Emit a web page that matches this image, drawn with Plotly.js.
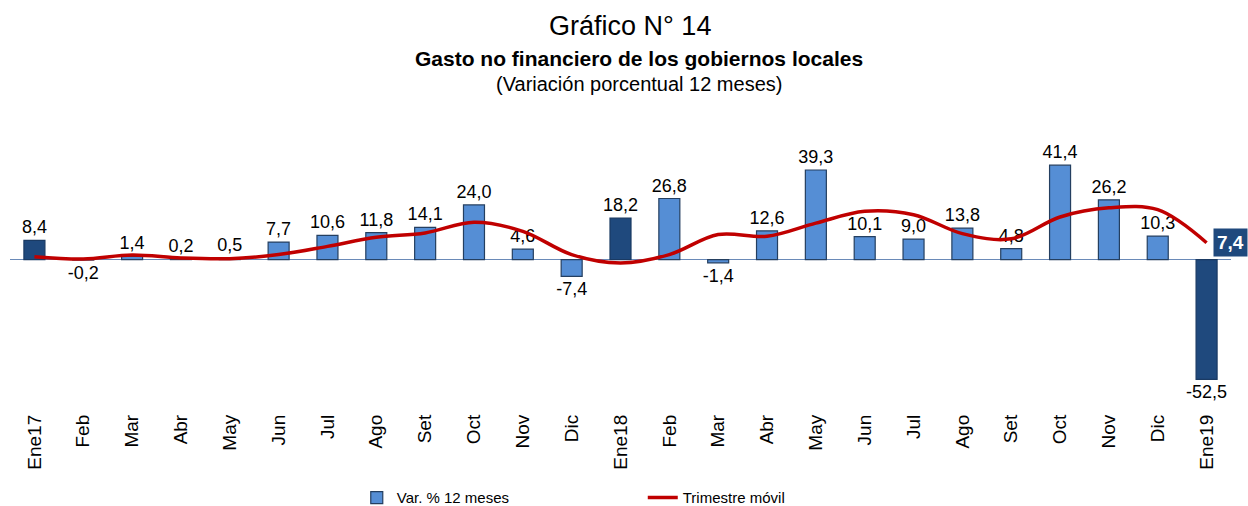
<!DOCTYPE html>
<html>
<head>
<meta charset="utf-8">
<script src="https://cdn.plot.ly/plotly-3.0.1.min.js"></script>
<style>html,body{margin:0;padding:0;background:#fff;}#chart{width:1248px;height:506px;}</style>
</head>
<body>
<div id="chart"></div>
<script>
const categories = ["Ene17","Feb","Mar","Abr","May","Jun","Jul","Ago","Set","Oct","Nov","Dic",
  "Ene18","Feb ","Mar ","Abr ","May ","Jun ","Jul ","Ago ","Set ","Oct ","Nov ","Dic ","Ene19"];
const varPct = [8.4,-0.2,1.4,0.2,0.5,7.7,10.6,11.8,14.1,24.0,4.6,-7.4,
  18.2,26.8,-1.4,12.6,39.3,10.1,9.0,13.8,4.8,41.4,26.2,10.3,-52.5];
const trimestre = [1.3,0.3,2.0,0.7,0.4,2.2,5.8,9.8,11.7,16.4,12.4,2.2,
  -1.5,2.2,11.0,10.2,16.0,21.2,19.7,11.4,9.1,18.7,22.7,21.9,7.4];

const FONT = "Liberation Sans, Arial, sans-serif";
const xs = categories.map((c, i) => i);
const isJan = categories.map(c => c.startsWith("Ene"));
const lightVals = varPct.map((v, i) => isJan[i] ? null : v);
const darkVals = varPct.map((v, i) => isJan[i] ? v : null);

const barCommon = {
  type: "bar", x: xs, width: 0.43,
  texttemplate: "%{y:.1f}", textposition: "outside", cliponaxis: false, constraintext: "none",
  textfont: {family: FONT, size: 18, color: "#000"}, hoverinfo: "skip"
};

const traces = [
  Object.assign({}, barCommon, {
    name: "Var. % 12 meses", y: lightVals, legendrank: 1,
    marker: {color: "#558ED5", line: {color: "#243F60", width: 1.2}}
  }),
  Object.assign({}, barCommon, {
    name: "Var. % 12 meses (Ene)", y: darkVals, showlegend: false,
    marker: {color: "#1F497D", line: {color: "#1A3A63", width: 1.2}}
  }),
  {
    type: "scatter", mode: "lines", name: "Trimestre móvil", x: xs, y: trimestre, legendrank: 2,
    line: {color: "#C00000", width: 3.5, shape: "spline", smoothing: 1},
    cliponaxis: false, hoverinfo: "skip"
  }
];

const last = trimestre.length - 1;
const layout = {
  width: 1248, height: 506,
  margin: {l: 10, r: 17, t: 157, b: 121, autoexpand: false},
  paper_bgcolor: "#fff", plot_bgcolor: "#fff",
  separators: ",.",
  font: {family: FONT, color: "#000"},
  showlegend: true,
  barmode: "overlay",
  title: {text: "Gráfico N° 14", x: 0.505, xanchor: "center", y: 0.949, yanchor: "middle",
    font: {family: FONT, size: 27, color: "#000"}},
  xaxis: {
    range: [-0.5, 24.5], tickmode: "array", tickvals: xs, ticktext: categories.map(c => c.trim()),
    tickangle: -90, ticklabelstandoff: 25, showgrid: false, zeroline: false, showline: false,
    automargin: false,
    ticks: "", tickfont: {family: FONT, size: 19, color: "#000"}, fixedrange: true
  },
  yaxis: {
    range: [-55, 45], showgrid: false, showticklabels: false, ticks: "", automargin: false,
    zeroline: true, zerolinecolor: "#6A8AB8", zerolinewidth: 1.5, showline: false, fixedrange: true
  },
  legend: {
    orientation: "h", x: 0.284, xanchor: "left", y: -0.495, yanchor: "middle",
    entrywidth: 241, entrywidthmode: "pixels",
    font: {family: FONT, size: 15, color: "#000"}, itemwidth: 30, bgcolor: "rgba(0,0,0,0)"
  },
  annotations: [
    {text: "<b>Gasto no financiero de los gobiernos locales</b>", xref: "paper", yref: "paper",
      x: 0.5155, y: 1.432, xanchor: "center", yanchor: "middle", showarrow: false,
      font: {family: FONT, size: 21, color: "#000"}},
    {text: "(Variación porcentual 12 meses)", xref: "paper", yref: "paper",
      x: 0.5155, y: 1.322, xanchor: "center", yanchor: "middle", showarrow: false,
      font: {family: FONT, size: 20, color: "#000"}},
    {text: "<b>" + trimestre[last].toFixed(1).replace(".", ",") + "</b>", x: xs[last], y: trimestre[last],
      xref: "x", yref: "y", xshift: 24, showarrow: false, bgcolor: "#1F497D",
      borderpad: 3, font: {family: FONT, size: 19, color: "#fff"}}
  ]
};

Plotly.newPlot("chart", traces, layout, {displayModeBar: false, staticPlot: true});
</script>
</body>
</html>
